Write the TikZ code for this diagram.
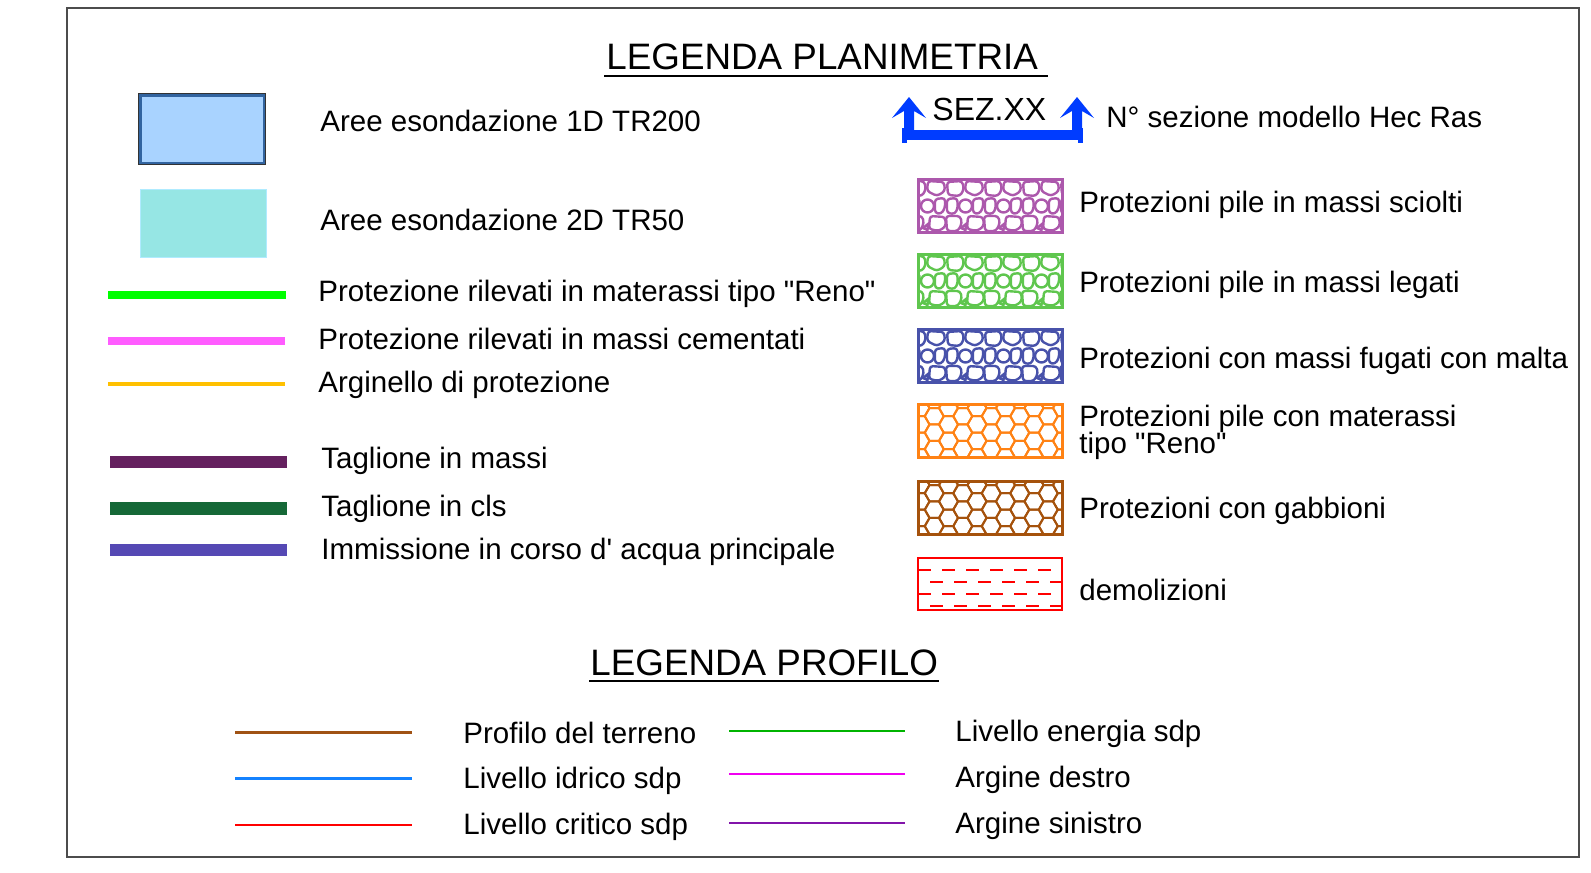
\documentclass[tikz,border=0pt]{standalone}
\usepackage{fontspec}
\setmainfont{Liberation Sans}[Ligatures=TeXOff]
\definecolor{cBlueFill}{RGB}{169,211,255}
\definecolor{cBlueEdge}{RGB}{50,100,160}
\definecolor{cCyan}{RGB}{150,230,228}
\definecolor{cCyanEdge}{RGB}{175,235,255}
\definecolor{cGreen}{RGB}{0,255,0}
\definecolor{cMag}{RGB}{255,92,255}
\definecolor{cOrangeLine}{RGB}{255,192,0}
\definecolor{cPurple}{RGB}{101,33,95}
\definecolor{cDkGreen}{RGB}{21,104,55}
\definecolor{cViolet}{RGB}{85,73,180}
\definecolor{cSez}{RGB}{0,60,255}
\definecolor{cStoneA}{RGB}{172,88,172}
\definecolor{cStoneB}{RGB}{95,198,78}
\definecolor{cStoneC}{RGB}{72,82,170}
\definecolor{cHexA}{RGB}{255,130,20}
\definecolor{cHexB}{RGB}{165,82,12}
\definecolor{cBrown}{RGB}{160,82,20}
\definecolor{cLBlue}{RGB}{20,130,255}
\definecolor{cLGreen}{RGB}{0,180,0}
\definecolor{cLMag}{RGB}{240,0,240}
\definecolor{cLPurple}{RGB}{130,20,170}
\newcommand\stonebox[3]{%
\begin{scope}[shift={(#2,#3)}]
 \begin{scope}
 \clip (0,0) rectangle (144,53);
 \foreach \k in {0,...,4}{
  \begin{scope}[shift={({\k*38-10},0)},draw=#1,line width=1.2pt,rounded corners=1.5pt]
   \draw (1,3) -- (16,2) -- (18,10) -- (14,17) -- (2,16) -- cycle;
   \draw (20,2) -- (36,3) -- (37,12) -- (29,17) -- (19,12) -- cycle;
   \draw (1,20) -- (11,19) -- (12,28) -- (9,35) -- (1,34) -- cycle;
   \draw[sharp corners] (19.5,27) circle[radius=3.25pt];
   \draw (27,20) -- (37,19) -- (37,29) -- (33,35) -- (27,34) -- cycle;
   \draw (0,37) -- (14,37) -- (16,44) -- (12,52) -- (1,52) -- cycle;
   \draw (22,37) -- (37,38) -- (38,47) -- (31,52) -- (21,50) -- cycle;
   \draw[sharp corners] (15,49) -- (20,45) -- (19.5,51) -- cycle;
  \end{scope}}
 \end{scope}
 \draw[#1,line width=1.5pt] (0,0) rectangle (144,53);
\end{scope}}
\newcommand\hexbox[3]{%
\begin{scope}[shift={(#2,#3)}]
 \begin{scope}
 \clip (0,0) rectangle (144,53);
 \foreach \i in {0,...,11}{\foreach \j in {-1,...,3}{
   \pgfmathsetmacro\cx{\i*14.25+2}
   \pgfmathsetmacro\cy{\j*16.45+mod(\i,2)*8.225+4}
   \draw[#1,line width=1pt] ({\cx+9.5},\cy) -- ({\cx+4.75},{\cy+8.225}) -- ({\cx-4.75},{\cy+8.225}) -- ({\cx-9.5},\cy) -- ({\cx-4.75},{\cy-8.225}) -- ({\cx+4.75},{\cy-8.225}) -- cycle;
 }}
 \end{scope}
 \draw[#1,line width=1.5pt] (0,0) rectangle (144,53);
\end{scope}}
\begin{document}
\begin{tikzpicture}[x=0.5pt,y=-0.5pt,
  lbl/.style={anchor=base west,inner sep=0pt,font=\fontsize{14.75}{17}\selectfont},
  ttl/.style={anchor=base west,inner sep=0pt,font=\fontsize{18.4}{22}\selectfont},
  legline/.style={line width=#1},
  uline/.style={line width=1pt}]
\useasboundingbox (0,0) rectangle (1591,873);
\draw[black!70,line width=0.9pt] (67,8) rectangle (1579,857);

% titles
\node[ttl] (t1) at (606,69) {LEGENDA PLANIMETRIA};
\draw[uline] (604,76) -- (1048,76);
\node[ttl] (t2) at (590,675) {LEGENDA PROFILO};
\draw[uline] (589,681) -- (939,681);

% left column symbols
\draw[fill=cBlueFill,draw=cBlueEdge,line width=1.5pt] (140,95) rectangle (264,163);
\draw[black!80,line width=0.6pt] (138.5,93.5) rectangle (265.5,164.5);
\draw[fill=cCyan,draw=cCyanEdge,line width=0.5pt] (140,189) rectangle (266,257);
\draw[cGreen,legline=4pt] (108,295) -- (286,295);
\draw[cMag,legline=4pt] (108,341) -- (285,341);
\draw[cOrangeLine,legline=2pt] (108,384) -- (285,384);
\draw[cPurple,legline=6pt] (110,462) -- (287,462);
\draw[cDkGreen,legline=6.5pt] (110,508) -- (287,508);
\draw[cViolet,legline=6pt] (110,550) -- (287,550);

% left column texts
\node[lbl] (a1) at (320,131) {Aree esondazione 1D TR200};
\node[lbl] (a2) at (320,230) {Aree esondazione 2D TR50};
\node[lbl] (a3) at (318,301) {Protezione rilevati in materassi tipo "Reno"};
\node[lbl] (a4) at (318,349) {Protezione rilevati in massi cementati};
\node[lbl] (a5) at (318,392) {Arginello di protezione};
\node[lbl] (a6) at (321,468) {Taglione in massi};
\node[lbl] (a7) at (321,516) {Taglione in cls};
\node[lbl] (a8) at (321,559) {Immissione in corso d' acqua principale};

% section symbol
\fill[cSez] (902,130) rectangle (1083,140);
\fill[cSez] (902,128) rectangle (907,143);
\fill[cSez] (1078,128) rectangle (1083,143);
\fill[cSez] (892,118) -- (909,97) -- (926,118) -- (914,111) -- (914,135) -- (904,135) -- (904,111) -- cycle;
\fill[cSez] (1060,118) -- (1077,97) -- (1094,118) -- (1082,111) -- (1082,135) -- (1072,135) -- (1072,111) -- cycle;
\node[lbl,font=\fontsize{16}{18}\selectfont] (sez) at (932,120) {SEZ.XX};
\node[lbl] (b0) at (1106,127) {N° sezione modello Hec Ras};

% pattern boxes
\stonebox{cStoneA}{918}{179}
\stonebox{cStoneB}{918}{254}
\stonebox{cStoneC}{918}{329}
\hexbox{cHexA}{918}{404}
\hexbox{cHexB}{918}{481}
\begin{scope}[shift={(918,558)}]
 \draw[red,line width=1pt] (0,0) rectangle (144,52);
 \draw[red,line width=1pt,dash pattern=on 6.5pt off 5.5pt] (0,12) -- (144,12);
 \draw[red,line width=1pt,dash pattern=on 6.5pt off 5.5pt,dash phase=6pt] (0,24) -- (144,24);
 \draw[red,line width=1pt,dash pattern=on 6.5pt off 5.5pt] (0,36) -- (144,36);
 \draw[red,line width=1pt,dash pattern=on 6.5pt off 5.5pt,dash phase=6pt] (0,48) -- (144,48);
\end{scope}

% right column texts
\node[lbl] (b1) at (1079,212) {Protezioni pile in massi sciolti};
\node[lbl] (b2) at (1079,292) {Protezioni pile in massi legati};
\node[lbl] (b3) at (1079,368) {Protezioni con massi fugati con malta};
\node[lbl] (b4) at (1079,426) {Protezioni pile con materassi};
\node[lbl] (b4b) at (1079,453) {tipo "Reno"};
\node[lbl] (b5) at (1079,518) {Protezioni con gabbioni};
\node[lbl] (b6) at (1079,600) {demolizioni};

% profile legend
\draw[cBrown,legline=1.5pt] (235,732) -- (412,732);
\draw[cLBlue,legline=1.5pt] (235,778) -- (412,778);
\draw[red,legline=1pt] (235,825) -- (412,825);
\draw[cLGreen,legline=1pt] (729,731) -- (905,731);
\draw[cLMag,legline=1pt] (729,774) -- (905,774);
\draw[cLPurple,legline=1pt] (729,823) -- (905,823);
\node[lbl] (p1) at (463,743) {Profilo del terreno};
\node[lbl] (p2) at (463,788) {Livello idrico sdp};
\node[lbl] (p3) at (463,834) {Livello critico sdp};
\node[lbl] (p4) at (955,741) {Livello energia sdp};
\node[lbl] (p5) at (955,787) {Argine destro};
\node[lbl] (p6) at (955,833) {Argine sinistro};
\end{tikzpicture}
\end{document}
